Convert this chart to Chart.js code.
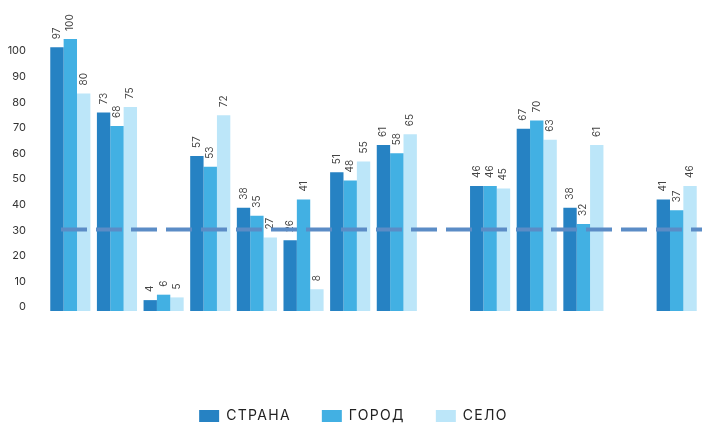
<!DOCTYPE html>
<html lang="ru">
<head>
<meta charset="utf-8">
<title>Страна / город / село</title>
<script src="https://cdn.jsdelivr.net/npm/chart.js@4/dist/chart.umd.min.js"></script>
<style>
  html, body { margin: 0; padding: 0; background: #fff; }
  #wrap { width: 702px; height: 425px; }
</style>
</head>
<body>
<div id="wrap"><canvas id="chart" width="702" height="425"></canvas></div>
<script>
'use strict';

// ─── Data ─────────────────────────────────────────────────────────────────────

const categories = ['1', '2', '3', '4', '5', '6', '7', '8', '9', '10', '11', '12', '13', '14'];
const strana = [97, 73, 4, 57, 38, 26, 51, 61, null, 46, 67, 38, null, 41];
const gorod  = [100, 68, 6, 53, 35, 41, 48, 58, null, 46, 70, 32, null, 37];
const selo   = [80, 75, 5, 72, 27, 8, 55, 65, null, 45, 63, 61, null, 46];
const seriesNames = ['СТРАНА', 'ГОРОД', 'СЕЛО'];
const tickValues = [0, 10, 20, 30, 40, 50, 60, 70, 80, 90, 100];
const referenceValue = 30;

const COLORS = ['#2682c3', '#42b0e3', '#bce6f9'];

// ─── Plugins ──────────────────────────────────────────────────────────────────

// spaced-out legend text: letter spacing on while the legend is measured / drawn
const legendSpacing = {
  id: 'legendSpacing',
  beforeLayout(chart) { chart.ctx.letterSpacing = '1.3px'; },
  afterLayout(chart) { chart.ctx.letterSpacing = '0px'; },
  beforeDraw(chart) { chart.ctx.letterSpacing = '1.3px'; },
  beforeDatasetsDraw(chart) { chart.ctx.letterSpacing = '0px'; },
};

// rotated value labels above each bar
const valueLabels = {
  id: 'valueLabels',
  afterDatasetsDraw(chart) {
    const { ctx } = chart;
    ctx.save();
    ctx.font = '10px Inter, sans-serif';
    ctx.fillStyle = '#444';
    ctx.textAlign = 'left';
    ctx.textBaseline = 'middle';
    chart.data.datasets.forEach((ds, di) => {
      const meta = chart.getDatasetMeta(di);
      meta.data.forEach((bar, i) => {
        const v = ds.data[i];
        if (v == null) return;
        ctx.save();
        ctx.translate(bar.x, bar.y - 8);
        ctx.rotate(-Math.PI / 2);
        ctx.fillText(String(v), 0, 0);
        ctx.restore();
      });
    });
    ctx.restore();
  },
};

// dashed reference line at referenceValue
const refLine = {
  id: 'refLine',
  afterDatasetsDraw(chart) {
    const { ctx, chartArea } = chart;
    const y = chart.scales.y.getPixelForValue(referenceValue);
    ctx.save();
    ctx.strokeStyle = '#5b8cc6';
    ctx.lineWidth = 4;
    ctx.setLineDash([26, 9]);
    ctx.beginPath();
    ctx.moveTo(chartArea.left + 14, y);
    ctx.lineTo(chart.width, y);
    ctx.stroke();
    ctx.restore();
  },
};

// ─── Chart ────────────────────────────────────────────────────────────────────

const datasets = [strana, gorod, selo].map((data, i) => ({
  label: seriesNames[i],
  data,
  backgroundColor: COLORS[i],
  borderWidth: 0,
  categoryPercentage: 0.86,
  barPercentage: 1.0,
  yAxisID: 'y',
}));

new Chart(document.getElementById('chart'), {
  type: 'bar',
  data: { labels: categories, datasets },
  options: {
    responsive: false,
    animation: false,
    layout: { padding: { top: 39, right: 2, bottom: -8, left: 7 } },
    plugins: {
      tooltip: { enabled: false },
      legend: {
        position: 'bottom',
        labels: {
          boxWidth: 20,
          boxHeight: 12,
          padding: 31,
          color: '#222',
          font: { family: 'Inter, sans-serif', size: 14 },
        },
      },
    },
    scales: {
      x: {
        display: true,
        grid: { display: false, drawTicks: false },
        border: { display: false },
        ticks: { display: false },
        afterFit: (scale) => { scale.height = 67; },
      },
      y: {
        display: false,
        min: 0,
        max: 100,
      },
      yt: {
        position: 'left',
        min: -1.5625,
        max: 104.6875,
        grid: { display: false, drawTicks: false },
        border: { display: false },
        afterFit: (scale) => { scale.width = 40; },
        afterBuildTicks: (scale) => { scale.ticks = tickValues.map(v => ({ value: v })); },
        ticks: {
          z: 1,
          padding: 21,
          color: '#333',
          font: { family: 'Inter, sans-serif', size: 11 },
        },
      },
    },
  },
  plugins: [legendSpacing, valueLabels, refLine],
});
</script>
</body>
</html>
